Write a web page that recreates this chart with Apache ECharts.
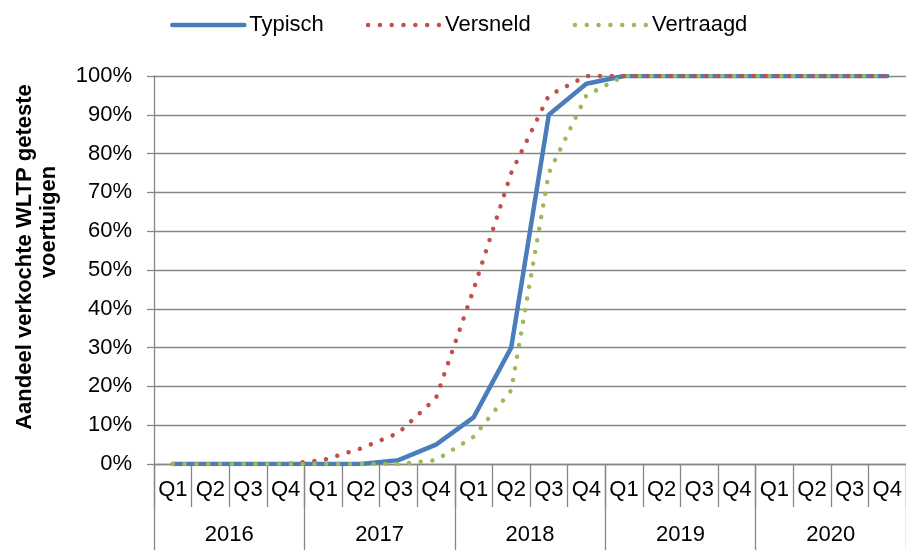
<!DOCTYPE html>
<html>
<head>
<meta charset="utf-8">
<script src="https://cdn.jsdelivr.net/npm/echarts@6/dist/echarts.min.js"></script>
<style>
html,body{margin:0;padding:0;background:#fff;}
#chart{width:906px;height:550px;}
</style>
</head>
<body>
<div id="chart"></div>
<script>
var quarters = ['Q1','Q2','Q3','Q4','Q1','Q2','Q3','Q4','Q1','Q2','Q3','Q4','Q1','Q2','Q3','Q4','Q1','Q2','Q3','Q4'];
var years = ['2016','2017','2018','2019','2020'];
var typisch    = [0,0,0,0,0,0,1,5,12,30,90,98,100,100,100,100,100,100,100,100];
var versneld   = [0,0,0,0,1,4,8,17,45,75,95,100,100,100,100,100,100,100,100,100];
var vertraagd  = [0,0,0,0,0,0,0,1,7,19,75,95,100,100,100,100,100,100,100,100];
var yTitle1 = 'Aandeel verkochte WLTP geteste';
var yTitle2 = 'voertuigen';

var FONT = '"Liberation Sans", Arial, sans-serif';
var GREY = '#878787';
var chart = echarts.init(document.getElementById('chart'), null, {renderer:'canvas'});
var dot = [0.01, 11.8];
chart.setOption({
  animation:false,
  backgroundColor:'#ffffff',
  textStyle:{fontFamily:FONT},
  grid:{left:154, top:76, width:755, height:388},
  legend:{
    left:170, top:14, padding:0, itemWidth:72, itemHeight:14, itemGap:42,
    itemStyle:{opacity:0},
    lineStyle:{width:4.5, cap:'round'},
    textStyle:{fontSize:22, color:'#000', fontFamily:FONT, padding:[0,0,0,0]},
    data:['Typisch','Versneld','Vertraagd']
  },
  xAxis:[{
    type:'category', data:quarters, boundaryGap:true, position:'bottom',
    axisLine:{show:true, lineStyle:{color:GREY, width:1.3}},
    axisTick:{show:true, length:43, interval:0, lineStyle:{color:GREY, width:1.3}},
    axisLabel:{interval:0, margin:15, fontSize:22, color:'#000', fontFamily:FONT},
    splitLine:{show:false}
  },{
    type:'category', data:years, boundaryGap:true, position:'bottom', offset:0,
    axisLine:{show:false},
    axisTick:{show:true, length:87, interval:0, lineStyle:{color:GREY, width:1.3}},
    axisLabel:{interval:0, margin:60, fontSize:22, color:'#000', fontFamily:FONT},
    splitLine:{show:false}
  }],
  yAxis:{
    type:'value', min:0, max:100, interval:10,
    axisLine:{show:true, lineStyle:{color:GREY, width:1.3}},
    axisTick:{show:true, length:7, lineStyle:{color:GREY, width:1.3}},
    axisLabel:{formatter:'{value}%', margin:22, fontSize:22, color:'#000', fontFamily:FONT},
    splitLine:{show:true, lineStyle:{color:GREY, width:1.3}}
  },
  series:[{
    name:'Typisch', type:'line', data:typisch, symbol:'none', xAxisIndex:0,
    lineStyle:{color:'#4A7EBB', width:4.5, cap:'round', join:'round'},
    itemStyle:{color:'#4A7EBB'}
  },{
    name:'Versneld', type:'line', data:versneld, symbol:'none', xAxisIndex:0,
    lineStyle:{color:'#C0504D', width:4.5, type:dot, cap:'round', join:'round'},
    itemStyle:{color:'#C0504D'}
  },{
    name:'Vertraagd', type:'line', data:vertraagd, symbol:'none', xAxisIndex:0,
    lineStyle:{color:'#9BBB59', width:4.5, type:dot, cap:'round', join:'round'},
    itemStyle:{color:'#9BBB59'}
  }],
  graphic:[{
    type:'text', x:25, y:257, rotation:Math.PI/2,
    style:{text:yTitle1, fontSize:22, fontWeight:'bold', fontFamily:FONT, fill:'#000', textAlign:'center', textVerticalAlign:'middle'}
  },{
    type:'text', x:49, y:222, rotation:Math.PI/2,
    style:{text:yTitle2, fontSize:22, fontWeight:'bold', fontFamily:FONT, fill:'#000', textAlign:'center', textVerticalAlign:'middle'}
  }]
});
</script>
</body>
</html>
